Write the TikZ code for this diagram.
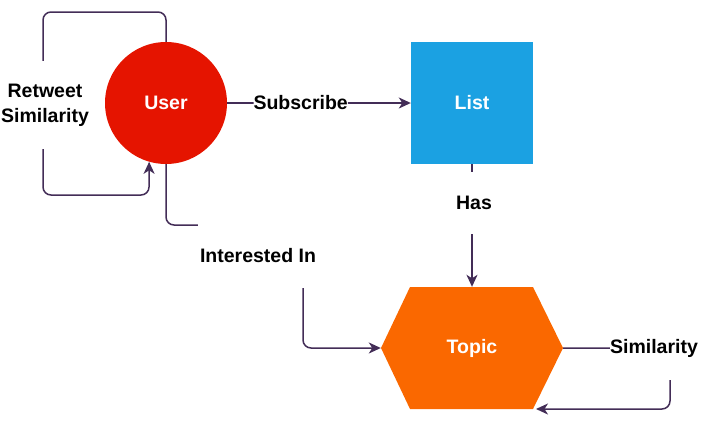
\documentclass[tikz,border=0pt]{standalone}
\usepackage{fontspec}
\setmainfont{Liberation Sans}
\usetikzlibrary{arrows.meta}
\definecolor{edgec}{HTML}{432D57}
\definecolor{userc}{HTML}{E51400}
\definecolor{listc}{HTML}{1BA1E2}
\definecolor{topicc}{HTML}{FA6800}
\tikzset{
  conn/.style={draw=edgec, line width=1.5pt, rounded corners=8pt},
  tip/.style={-{Stealth[length=12pt,width=11pt,inset=3.5pt]}},
  lbl/.style={fill=white, inner sep=0pt, text=black, font=\fontsize{19.5}{25}\selectfont\bfseries, align=center},
  shapetext/.style={text=white, font=\fontsize{19.5}{25}\selectfont\bfseries, inner sep=0pt}
}
\begin{document}
\begin{tikzpicture}[x=1pt,y=-1pt]
\useasboundingbox (0,0) rectangle (701,423);
% nodes
\node[shapetext, circle, fill=userc, minimum size=122pt] (user) at (166,103) {User};
\node[shapetext, rectangle, fill=listc, minimum width=122pt, minimum height=122pt] (list) at (472,103) {List};
\fill[topicc] (381,348) -- (410,287) -- (533,287) -- (563,348) -- (533,409) -- (410,409) -- cycle;
\node[shapetext, rectangle, minimum width=182pt, minimum height=122pt] (topic) at (472,348) {Topic};
\coordinate (simend) at (536,409);
% connectors
\draw[conn, tip] (user.north) |- (43,12) |- (149,195) -- (user.254);
\draw[conn, tip] (user.east) -- (list.west) node[lbl, pos=0.4] (sub) {Subscribe};
\draw[conn, tip] (list.south) -- (topic.north);
\draw[conn, tip] (user.south) |- (303,225) |- (topic.west);
\draw[conn, tip] (topic.east) -| (670,409) -- (simend);
% labels with white boxes
\node[lbl, minimum width=90pt, minimum height=88pt] (rts) at (45,105) {Retweet\\Similarity};
\node[lbl, minimum width=40pt, minimum height=62pt] (has) at (474,203) {Has};
\node[lbl, minimum width=120pt, minimum height=64pt] (int) at (258,256) {Interested In};
\node[lbl, minimum width=86pt, minimum height=64pt] (sim) at (654,348) {Similarity};
\end{tikzpicture}
\end{document}
